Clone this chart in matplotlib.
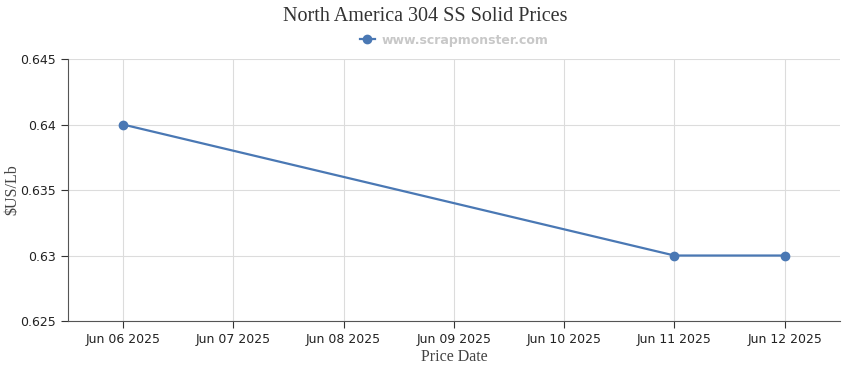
import pandas as pd
import matplotlib.pyplot as plt
import matplotlib.dates as mdates

dates = ["2025-06-06", "2025-06-11", "2025-06-12"]
prices = [0.640, 0.630, 0.630]
yticks = [0.625, 0.63, 0.635, 0.64, 0.645]
ytick_labels = ["0.625", "0.63", "0.635", "0.64", "0.645"]

line_color = "#4a78b4"

d = pd.to_datetime(dates)
fig = plt.figure(figsize=(8.5, 3.7), dpi=100)
ax = fig.add_axes([0.08, 0.1324, 0.908, 0.708])

ax.plot(d, prices, color=line_color, linewidth=1.6, marker="o", markersize=6,
        label="www.scrapmonster.com")

ax.set_xlim(pd.Timestamp("2025-06-05 12:00"), pd.Timestamp("2025-06-12 12:00"))
ax.xaxis.set_major_locator(mdates.DayLocator())
ax.xaxis.set_major_formatter(mdates.DateFormatter("%b %d %Y"))
ax.set_ylim(0.625, 0.645)
ax.set_yticks(yticks)
ax.set_yticklabels(ytick_labels)

ax.grid(True, color="#dcdcdc", linewidth=0.8)
ax.set_axisbelow(True)
for s in ["top", "right"]:
    ax.spines[s].set_visible(False)
for s in ["left", "bottom"]:
    ax.spines[s].set_color("#555555")
ax.tick_params(axis="both", labelsize=9, colors="#333333", length=5, width=0.8)
ax.tick_params(axis="both", labelcolor="#222222")

ax.set_xlabel("Price Date", fontsize=11.5, family="Liberation Serif", color="#444444", labelpad=2)
ax.set_ylabel("$US/Lb", fontsize=11.5, family="Liberation Serif", color="#444444",
              va="center")
ax.yaxis.set_label_coords(-0.072, 0.5)

fig.text(0.5, 0.955, "North America 304 SS Solid Prices", ha="center", va="center",
         fontsize=14.5, family="Liberation Serif", color="#333333")
leg = ax.legend(loc="lower center", bbox_to_anchor=(0.5, 1.0), frameon=False,
                prop={"size": 9, "weight": "bold"}, handlelength=1.2,
                handletextpad=0.5, borderaxespad=0.6)
for t in leg.get_texts():
    t.set_color("#c8c8c8")

plt.savefig("out.png", dpi=100)
plt.close()
